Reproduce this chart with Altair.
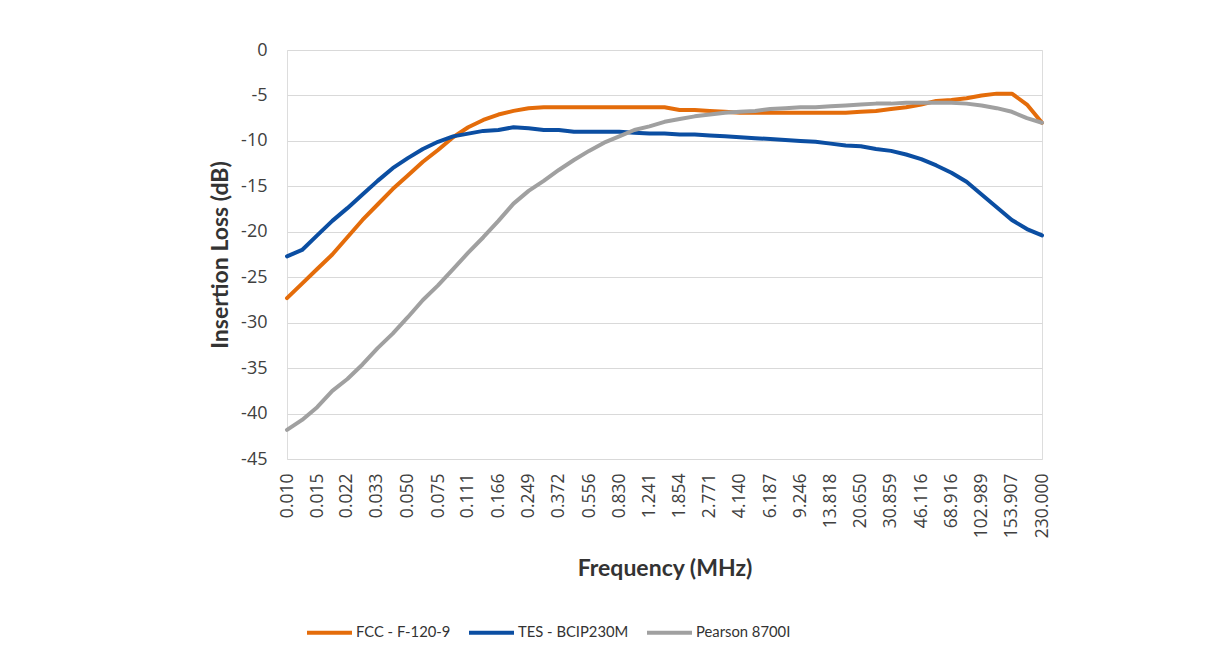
import altair as alt
import pandas as pd

# Sample frequencies (MHz), log-spaced
FREQ_MHZ = [
    0.010, 0.01222, 0.01494, 0.01827, 0.02233, 0.02730, 0.03338, 0.04080, 0.04988, 0.06098,
    0.07454, 0.09113, 0.1114, 0.1362, 0.1665, 0.2035, 0.2488, 0.3042, 0.3718, 0.4546,
    0.5557, 0.6793, 0.8304, 1.0152, 1.241, 1.5171, 1.855, 2.2672, 2.772, 3.3882,
    4.142, 5.0634, 6.190, 7.5667, 9.250, 11.308, 13.82, 16.899, 20.66, 25.254,
    30.87, 37.740, 46.13, 56.398, 68.94, 84.282, 103.0, 125.95, 154.0, 188.22,
    230.0,
]

FCC_F120_9 = [
    -27.3, -25.7, -24.1, -22.5, -20.6, -18.7, -17.0, -15.3, -13.8, -12.3,
    -11.0, -9.6, -8.5, -7.7, -7.1, -6.7, -6.4, -6.3, -6.3, -6.3,
    -6.3, -6.3, -6.3, -6.3, -6.3, -6.3, -6.6, -6.6, -6.7, -6.8,
    -6.9, -6.9, -6.9, -6.9, -6.9, -6.9, -6.9, -6.9, -6.8, -6.7,
    -6.5, -6.3, -6.0, -5.6, -5.5, -5.3, -5.0, -4.8, -4.8, -6.0,
    -8.0,
]

TES_BCIP230M = [
    -22.7, -22.0, -20.4, -18.8, -17.4, -15.9, -14.4, -13.0, -11.9, -10.9,
    -10.1, -9.5, -9.2, -8.9, -8.8, -8.5, -8.6, -8.8, -8.8, -9.0,
    -9.0, -9.0, -9.0, -9.1, -9.2, -9.2, -9.3, -9.3, -9.4, -9.5,
    -9.6, -9.7, -9.8, -9.9, -10.0, -10.1, -10.3, -10.5, -10.6, -10.9,
    -11.1, -11.5, -12.0, -12.7, -13.5, -14.5, -15.9, -17.3, -18.7, -19.7,
    -20.4,
]

PEARSON_8700I = [
    -41.8, -40.7, -39.3, -37.5, -36.2, -34.6, -32.8, -31.2, -29.4, -27.5,
    -25.9, -24.1, -22.3, -20.6, -18.8, -16.9, -15.5, -14.4, -13.2, -12.1,
    -11.1, -10.2, -9.5, -8.8, -8.4, -7.9, -7.6, -7.3, -7.1, -6.9,
    -6.8, -6.7, -6.5, -6.4, -6.3, -6.3, -6.2, -6.1, -6.0, -5.9,
    -5.9, -5.8, -5.8, -5.8, -5.8, -5.9, -6.1, -6.4, -6.8, -7.5,
    -8.0,
]

SERIES = ["FCC - F-120-9", "TES - BCIP230M", "Pearson 8700I"]
COLORS = ["#E46C0A", "#0B4EA2", "#A0A0A0"]

TICK_LABELS = [
    "0.010", "0.015", "0.022", "0.033", "0.050", "0.075", "0.111", "0.166", "0.249",
    "0.372", "0.556", "0.830", "1.241", "1.854", "2.771", "4.140", "6.187", "9.246",
    "13.818", "20.650", "30.859", "46.116", "68.916", "102.989", "153.907", "230.000",
]
TICK_VALUES = [float(s) for s in TICK_LABELS]
Y_TICKS = list(range(-45, 1, 5))

rows = []
for name, vals in zip(SERIES, [FCC_F120_9, TES_BCIP230M, PEARSON_8700I]):
    for f, v in zip(FREQ_MHZ, vals):
        rows.append({"freq": f, "loss": v, "series": name})
df = pd.DataFrame(rows)

label_font = "Open Sans"
title_font = "Lato"

chart = alt.Chart(df).mark_line(strokeWidth=4, strokeCap="round", strokeJoin="round").encode(
    x=alt.X(
        "freq:Q",
        scale=alt.Scale(type="log", domain=[0.01, 230], nice=False),
        axis=alt.Axis(
            title="Frequency (MHz)",
            values=TICK_VALUES,
            labelExpr="format(datum.value, '.3f')",
            labelAngle=270,
            labelOverlap=False,
            labelFlush=False,
            labelBound=False,
            labelPadding=14,
            labelFontSize=17.5,
            labelFont=label_font,
            labelColor="#404040",
            grid=False,
            domain=False,
            ticks=False,
            titleFont=title_font,
            titleFontSize=23,
            titleFontWeight="bold",
            titleColor="#333333",
            titlePadding=20,
        ),
    ),
    y=alt.Y(
        "loss:Q",
        scale=alt.Scale(domain=[-45, 0], nice=False),
        axis=alt.Axis(
            title="Insertion Loss (dB)",
            values=Y_TICKS,
            labelExpr="'' + datum.value",
            labelPadding=20,
            labelFontSize=18,
            labelFont=label_font,
            labelColor="#404040",
            grid=True,
            gridColor="#D9D9D9",
            gridWidth=1.2,
            domain=False,
            ticks=False,
            titleFont=title_font,
            titleFontSize=23,
            titleFontWeight="bold",
            titleColor="#333333",
            titlePadding=8,
        ),
    ),
    color=alt.Color(
        "series:N",
        scale=alt.Scale(domain=SERIES, range=COLORS),
        sort=SERIES,
        legend=alt.Legend(
            title=None,
            orient="none",
            legendX=18,
            legendY=558,
            direction="horizontal",
            symbolType="stroke",
            symbolSize=2025,
            symbolStrokeWidth=4,
            labelFont=title_font,
            labelFontSize=14.8,
            labelColor="#333333",
            labelOffset=2,
            columnPadding=10,
        ),
    ),
).properties(
    width=755,
    height=409,
    autosize=alt.AutoSizeParams(type="none"),
    padding={"left": 279, "top": 42, "right": 181, "bottom": 201},
).configure_view(stroke=None).configure(background="white")

chart.save("out.html", embed_options={"renderer": "svg", "actions": False})
